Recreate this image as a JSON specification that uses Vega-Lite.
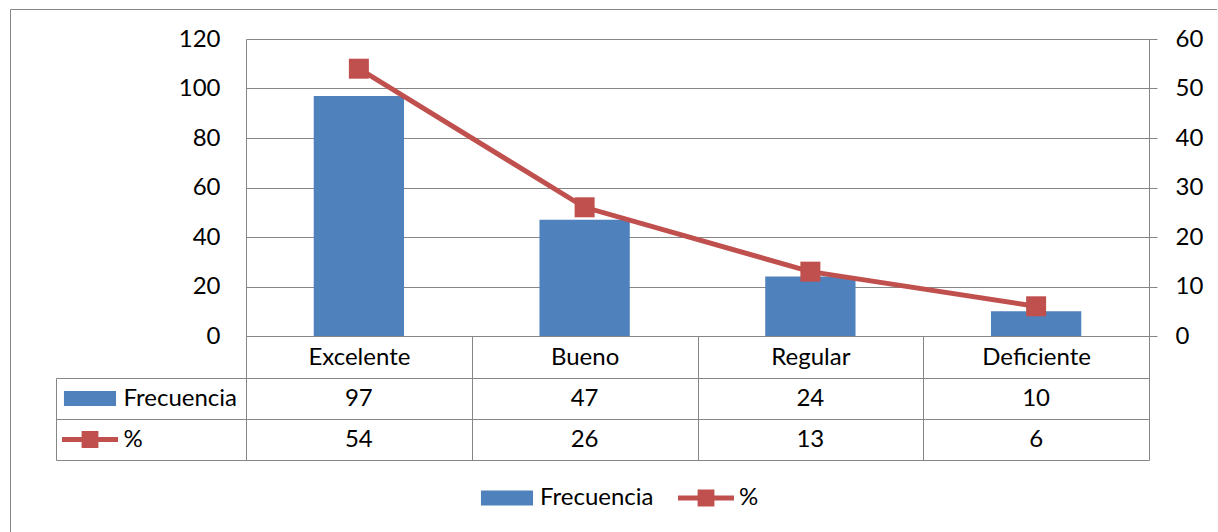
{
  "$schema": "https://vega.github.io/schema/vega-lite/v6.json",
  "width": 1207,
  "height": 530,
  "autosize": {"type": "none"},
  "padding": {"left": 10, "top": 9, "right": 0, "bottom": 0},
  "background": "white",
  "config": {
    "view": {"stroke": "#868686", "strokeWidth": 1},
    "font": "Lato",
    "axis": {
      "labelFont": "Lato",
      "labelFontSize": 24,
      "labelColor": "#000000",
      "domainColor": "#868686",
      "tickColor": "#868686",
      "gridColor": "#868686",
      "gridOpacity": 1,
      "domainWidth": 1,
      "tickWidth": 1,
      "gridWidth": 1
    },
    "legend": {
      "labelFont": "Lato",
      "labelFontSize": 24,
      "labelColor": "#000000"
    }
  },
  "datasets": {
    "tabla": [
      {"cat": "Excelente", "serie": "Frecuencia", "valor": 97},
      {"cat": "Bueno", "serie": "Frecuencia", "valor": 47},
      {"cat": "Regular", "serie": "Frecuencia", "valor": 24},
      {"cat": "Deficiente", "serie": "Frecuencia", "valor": 10},
      {"cat": "Excelente", "serie": "%", "valor": 54},
      {"cat": "Bueno", "serie": "%", "valor": 26},
      {"cat": "Regular", "serie": "%", "valor": 13},
      {"cat": "Deficiente", "serie": "%", "valor": 6}
    ]
  },
  "data": {"name": "tabla"},
  "layer": [
    {
      "transform": [{"filter": "datum.serie === 'Frecuencia'"}],
      "mark": {"type": "bar", "color": "#4F81BD", "width": {"band": 0.4}},
      "encoding": {
        "x": {
          "field": "cat",
          "type": "nominal",
          "sort": ["Excelente", "Bueno", "Regular", "Deficiente"],
          "scale": {
            "domain": ["Excelente", "Bueno", "Regular", "Deficiente"],
            "range": [236, 1139],
            "paddingInner": 0,
            "paddingOuter": 0
          },
          "axis": {
            "title": null,
            "orient": "bottom",
            "offset": -203,
            "tickBand": "extent",
            "tickSize": 124,
            "labelPadding": -103,
            "labelBaseline": "middle",
            "labelAngle": 0,
            "grid": false
          }
        },
        "y": {
          "field": "valor",
          "type": "quantitative",
          "scale": {"domain": [0, 120], "range": [327, 30], "nice": false, "zero": true},
          "axis": {
            "title": null,
            "orient": "left",
            "offset": -236,
            "values": [0, 20, 40, 60, 80, 100, 120],
            "ticks": false,
            "labelPadding": 26,
            "grid": true,
            "domain": true
          }
        }
      }
    },
    {
      "transform": [{"filter": "datum.serie === '%'"}],
      "mark": {
        "type": "line",
        "color": "#C0504D",
        "strokeWidth": 5,
        "point": {"filled": true, "shape": "square", "size": 400, "color": "#C0504D", "opacity": 1}
      },
      "encoding": {
        "x": {"field": "cat", "type": "nominal", "sort": ["Excelente", "Bueno", "Regular", "Deficiente"]},
        "y": {
          "field": "valor",
          "type": "quantitative",
          "scale": {"domain": [0, 60], "range": [327, 30], "nice": false, "zero": true},
          "axis": {
            "title": null,
            "orient": "right",
            "offset": -68,
            "values": [0, 10, 20, 30, 40, 50, 60],
            "tickSize": 8,
            "labelPadding": 18,
            "grid": false,
            "domain": true
          }
        }
      }
    },
    {
      "mark": {"type": "text", "font": "Lato", "fontSize": 24, "color": "#000000", "baseline": "middle"},
      "encoding": {
        "x": {"field": "cat", "type": "nominal", "sort": ["Excelente", "Bueno", "Regular", "Deficiente"]},
        "y": {
          "field": "serie",
          "type": "nominal",
          "scale": {"domain": ["Frecuencia", "%"], "range": [369, 451], "paddingInner": 0, "paddingOuter": 0},
          "axis": {
            "title": null,
            "orient": "left",
            "offset": -236,
            "tickBand": "extent",
            "tickSize": 190,
            "labelPadding": -67,
            "labelAlign": "left",
            "labelBaseline": "middle",
            "grid": true,
            "domain": true
          }
        },
        "text": {"field": "valor", "type": "quantitative"}
      }
    },
    {
      "transform": [{"aggregate": [{"op": "count", "as": "n"}], "groupby": ["serie"]}],
      "mark": {"type": "point", "filled": true, "size": 3136, "opacity": 1, "strokeWidth": 0, "xOffset": -156},
      "encoding": {
        "x": {"datum": "Excelente", "type": "nominal", "bandPosition": 0},
        "y": {
          "field": "serie",
          "type": "nominal",
          "scale": {"domain": ["Frecuencia", "%"], "range": [369, 451], "paddingInner": 0, "paddingOuter": 0},
          "axis": {
            "title": null,
            "orient": "left",
            "offset": -46,
            "ticks": false,
            "labels": false,
            "grid": false,
            "domain": true
          }
        },
        "fill": {
          "field": "serie",
          "type": "nominal",
          "scale": {"domain": ["Frecuencia", "%"], "range": ["#4F81BD", "#C0504D"]},
          "legend": {
            "title": null,
            "orient": "none",
            "legendX": 469,
            "legendY": 461,
            "direction": "horizontal",
            "symbolSize": 3136,
            "symbolStrokeWidth": 0,
            "symbolOpacity": 1,
            "labelOffset": 5,
            "columnPadding": 24,
            "padding": 0
          }
        },
        "shape": {
          "field": "serie",
          "type": "nominal",
          "scale": {
            "domain": ["Frecuencia", "%"],
            "range": [
              "M-0.93,-0.27H0.93V0.27H-0.93Z",
              "M-1,-0.09H1V0.09H-1Z M-0.3,-0.3H0.3V0.3H-0.3Z"
            ]
          },
          "legend": {
            "title": null,
            "orient": "none",
            "legendX": 469,
            "legendY": 461,
            "direction": "horizontal",
            "symbolSize": 3136,
            "symbolStrokeWidth": 0,
            "symbolOpacity": 1,
            "labelOffset": 5,
            "columnPadding": 24,
            "padding": 0
          }
        }
      }
    }
  ],
  "resolve": {"scale": {"y": "independent"}, "axis": {"y": "independent"}}
}
